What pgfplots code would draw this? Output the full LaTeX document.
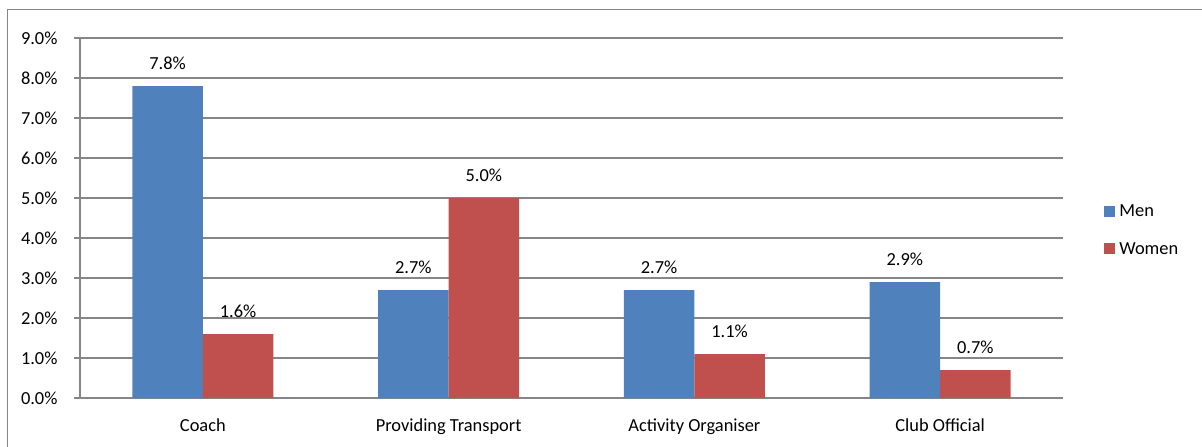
\documentclass[border=0pt]{standalone}
\usepackage{fontspec}
\setmainfont{Carlito}
\usepackage{pgfplots}
\pgfplotsset{compat=1.18}

\definecolor{menblue}{HTML}{4F81BD}
\definecolor{womenred}{HTML}{C0504D}
\definecolor{axisgray}{HTML}{868686}

\newcommand{\chartfont}{\fontsize{9.2}{11}\selectfont}

\begin{document}
\chartfont
\begin{tikzpicture}
\useasboundingbox (0,0) rectangle (601pt,223pt);
% chart frame
\draw[axisgray, line width=0.6pt] (3.6pt,-5pt) -- (3.6pt,218.4pt) -- (620pt,218.4pt);
\begin{axis}[
  at={(40pt,24pt)}, anchor=south west,
  scale only axis,
  width=491.5pt, height=180pt,
  ymin=0, ymax=9, ytick distance=1,
  xmin=-0.5, xmax=3.5,
  xtick={0,1,2,3},
  xticklabels={Coach, Providing Transport, Activity Organiser, Club Official},
  major x tick style={draw=none},
  extra x ticks={-0.5,0.5,1.5,2.5,3.5},
  extra x tick labels={},
  extra x tick style={grid=none, major tick length=3pt, tick style={axisgray, line width=0.75pt}},
  tick align=outside,
  major tick length=3pt,
  axis x line*=bottom, axis y line*=left,
  axis line style={axisgray, line width=0.75pt, -},
  ymajorgrids,
  grid style={axisgray, line width=0.75pt},
  tick style={axisgray, line width=0.75pt},
  /pgf/number format/assume math mode=true,
  yticklabel={\pgfmathprintnumber[fixed,fixed zerofill,precision=1]{\tick}\%},
  yticklabel style={font=\chartfont, xshift=-5pt},
  xticklabel style={font=\chartfont, yshift=-4pt},
  ybar=0pt,
  bar width=35.25pt,
  nodes near coords={\pgfmathprintnumber[fixed,fixed zerofill,precision=1]{\pgfplotspointmeta}\%},
  point meta=y,
  every node near coord/.append style={font=\chartfont, anchor=base, inner sep=0pt, yshift=8.5pt, text=black},
  legend style={at={(1.0417,0.464)}, anchor=west, draw=none, fill=none,
    font=\chartfont, row sep=7.5pt, inner sep=0pt,
    legend cell align=left},
  legend image code/.code={\fill[#1] (0pt,-2.2pt) rectangle (5.5pt,3.3pt);},
]
\addplot[fill=menblue, draw=none] coordinates {(0,7.8) (1,2.7) (2,2.7) (3,2.9)};
\addplot[fill=womenred, draw=none] coordinates {(0,1.6) (1,5.0) (2,1.1) (3,0.7)};
\legend{Men, Women}
\end{axis}
\end{tikzpicture}
\end{document}
